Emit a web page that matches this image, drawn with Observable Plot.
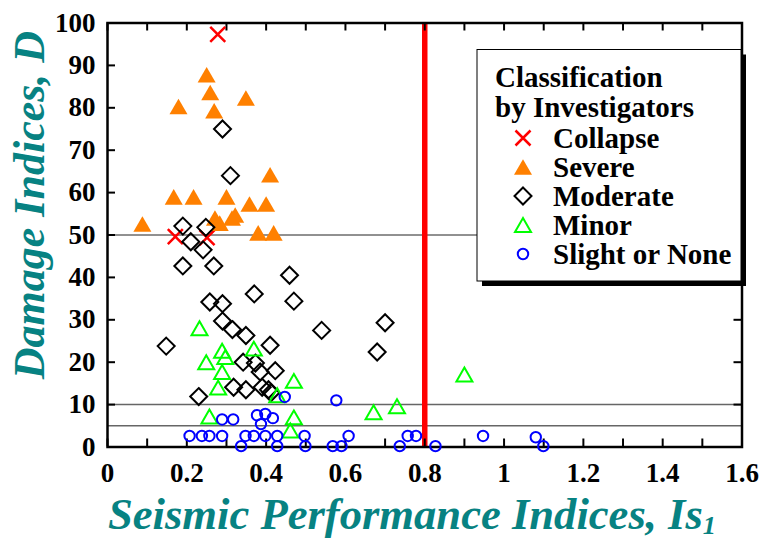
<!DOCTYPE html>
<html><head><meta charset="utf-8">
<script src="https://cdn.jsdelivr.net/npm/d3@7"></script>
<script src="https://cdn.jsdelivr.net/npm/@observablehq/plot@0.6"></script>
<style>body{margin:0;background:#fff;}</style>
</head><body><div id="chart"></div>
<script>
// ---- data ----
const collapseX = [0.278, 0.171, 0.251];
const collapseY = [97.3, 49.6, 49.4];

const severeX = [0.250, 0.259, 0.179, 0.349, 0.269, 0.410, 0.167, 0.217, 0.300, 0.358, 0.400, 0.088, 0.271, 0.283, 0.314, 0.322, 0.380, 0.419];
const severeY = [87.8, 83.6, 80.3, 82.3, 79.3, 64.2, 59.0, 59.0, 59.0, 57.3, 57.3, 52.6, 54.0, 52.8, 54.0, 54.7, 50.5, 50.5];

const moderateX = [0.290, 0.310, 0.190, 0.248, 0.210, 0.241, 0.190, 0.268, 0.459, 0.258, 0.290, 0.370, 0.470, 0.290, 0.315, 0.349, 0.410, 0.148, 0.540, 0.700, 0.680, 0.342, 0.373, 0.385, 0.423, 0.318, 0.349, 0.390, 0.406, 0.412, 0.230];
const moderateY = [75.0, 64.0, 52.1, 51.8, 48.4, 46.5, 42.7, 42.7, 40.5, 34.2, 33.8, 36.1, 34.4, 29.7, 27.7, 26.3, 24.0, 23.8, 27.5, 29.3, 22.4, 20.0, 19.8, 17.7, 18.0, 14.1, 13.5, 14.1, 13.5, 12.8, 11.9];

const minorX = [0.232, 0.289, 0.249, 0.297, 0.369, 0.289, 0.279, 0.470, 0.428, 0.257, 0.470, 0.461, 0.671, 0.730, 0.900];
const minorY = [28.0, 22.7, 20.0, 21.2, 23.2, 17.7, 14.0, 15.6, 12.2, 7.2, 7.0, 3.9, 8.2, 9.6, 17.1];

const slightX = [0.447, 0.577, 0.289, 0.317, 0.377, 0.398, 0.417, 0.387,
  0.207, 0.238, 0.257, 0.289, 0.348, 0.369, 0.398, 0.428, 0.497, 0.608, 0.757, 0.778, 0.947, 1.080,
  0.337, 0.428, 0.499, 0.568, 0.590, 0.737, 0.827, 1.099];
const slightY = [11.8, 11.0, 6.5, 6.5, 7.5, 7.8, 6.8, 5.4,
  2.6, 2.6, 2.6, 2.6, 2.6, 2.6, 2.6, 2.6, 2.6, 2.6, 2.6, 2.6, 2.6, 2.3,
  0.2, 0.2, 0.2, 0.2, 0.2, 0.2, 0.2, 0.2];

const xTickLabels = [0, 0.2, 0.4, 0.6, 0.8, 1, 1.2, 1.4, 1.6];
const xMinorTicks = [0, 0.1, 0.2, 0.3, 0.4, 0.5, 0.6, 0.7, 0.8, 0.9, 1, 1.1, 1.2, 1.3, 1.4, 1.5, 1.6];
const yTickLabels = [0, 10, 20, 30, 40, 50, 60, 70, 80, 90, 100];
const refLinesThin = [10, 5];
const refLineMain = [50];
const thresholdX = [0.8];

const categories = ["Collapse", "Severe", "Moderate", "Minor", "Slight or None"];
const xTitle = "Seismic Performance Indices, Is";
const xTitleSub = "1";
const yTitle = "Damage Indices, D";
const legendTitle = ["Classification", "by Investigators"];

// ---- helpers ----
const rows = (xs, ys) => xs.map((x, i) => ({x, y: ys[i]}));
const R = s => Math.sqrt(s / Math.PI);
const symTimes = {draw(c, s){ const r = R(s); c.moveTo(-r,-r); c.lineTo(r,r); c.moveTo(-r,r); c.lineTo(r,-r); }};
const symTri = {draw(c, s){ const r = R(s), h = r*Math.sqrt(3); c.moveTo(0,-h/2); c.lineTo(r,h/2); c.lineTo(-r,h/2); c.closePath(); }};
const symDiamond = {draw(c, s){ const r = R(s); c.moveTo(0,-r); c.lineTo(r,0); c.lineTo(0,r); c.lineTo(-r,0); c.closePath(); }};
const symCircle = {draw(c, s){ const r = R(s); c.moveTo(r,0); c.arc(0,0,r,0,2*Math.PI); }};

const styles = {
  "Collapse": {symbol: symTimes, r: 7.5, fill: "none", stroke: "#ff0000", strokeWidth: 2.5},
  "Severe": {symbol: symTri, r: 9, fill: "#ff8000", stroke: "none", strokeWidth: 0},
  "Moderate": {symbol: symDiamond, r: 8.5, fill: "none", stroke: "#000000", strokeWidth: 2},
  "Minor": {symbol: symTri, r: 8, fill: "none", stroke: "#00ff00", strokeWidth: 2},
  "Slight or None": {symbol: symCircle, r: 5.2, fill: "none", stroke: "#0000ff", strokeWidth: 2}
};
const series = {
  "Collapse": rows(collapseX, collapseY),
  "Severe": rows(severeX, severeY),
  "Moderate": rows(moderateX, moderateY),
  "Minor": rows(minorX, minorY),
  "Slight or None": rows(slightX, slightY)
};

const W = 764, H = 539, mL = 107, mR = 22.5, mT = 22.5, mB = 92.5;
const fw = W - mL - mR, fh = H - mT - mB;

const plot = Plot.plot({
  width: W, height: H,
  marginLeft: mL, marginRight: mR, marginTop: mT, marginBottom: mB,
  style: {fontFamily: "'Liberation Serif', 'Times New Roman', serif", fontSize: "27px", fontWeight: "bold", color: "black", background: "white"},
  x: {domain: [0, 1.6], ticks: xTickLabels, tickFormat: d => String(d), tickSize: 0, tickPadding: 16, label: null},
  y: {domain: [0, 100], ticks: yTickLabels, tickFormat: d => String(d), tickSize: 0, tickPadding: 12, label: null},
  marks: [
    Plot.ruleY(refLinesThin, {y: d => d, stroke: "#666", strokeWidth: 1.5}),
    Plot.ruleY(refLineMain, {y: d => d, stroke: "#222", strokeWidth: 1}),
    Plot.ruleX(thresholdX, {x: d => d, stroke: "#ff0000", strokeWidth: 5.5}),
    Plot.tickX(xMinorTicks, {x: d => d, insetTop: fh - 8, stroke: "black", strokeWidth: 2}),
    Plot.tickX(xMinorTicks, {x: d => d, insetBottom: fh - 8, stroke: "black", strokeWidth: 2}),
    Plot.tickY(yTickLabels, {y: d => d, insetRight: fw - 8, stroke: "black", strokeWidth: 2}),
    Plot.tickY(yTickLabels, {y: d => d, insetLeft: fw - 8, stroke: "black", strokeWidth: 2}),
    Plot.frame({stroke: "black", strokeWidth: 2.5}),
    ...categories.map(c => Plot.dot(series[c], {x: "x", y: "y", ...styles[c]}))
  ]
});
document.getElementById("chart").appendChild(plot);

// ---- titles and legend ----
const svg = d3.select(plot);
const teal = "#078282";
const xt = svg.append("text")
  .attr("x", 108).attr("y", 529)
  .attr("text-anchor", "start")
  .attr("fill", teal).attr("font-family", "'Liberation Serif', serif")
  .attr("font-size", 44).attr("font-weight", "bold").attr("font-style", "italic")
  .attr("textLength", 608).attr("lengthAdjust", "spacingAndGlyphs");
xt.append("tspan").text(xTitle);
xt.append("tspan").attr("font-size", 26).attr("dy", 5).text(xTitleSub);

svg.append("text")
  .attr("transform", "translate(44,205) rotate(-90)")
  .attr("text-anchor", "middle")
  .attr("fill", teal).attr("font-family", "'Liberation Serif', serif")
  .attr("font-size", 44).attr("font-weight", "bold").attr("font-style", "italic")
  .text(yTitle);

const lg = svg.append("g").attr("font-family", "'Liberation Serif', serif").attr("font-weight", "bold").attr("font-size", 29).attr("text-anchor", "start");
lg.append("rect").attr("x", 482).attr("y", 54.5).attr("width", 264).attr("height", 231.5).attr("fill", "black");
lg.append("rect").attr("x", 477).attr("y", 49.5).attr("width", 264).attr("height", 231.5).attr("fill", "white").attr("stroke", "black").attr("stroke-width", 1);
legendTitle.forEach((t, i) => lg.append("text").attr("x", 495).attr("y", 87 + i * 29.5).attr("fill", "black").text(t));
categories.forEach((c, i) => {
  const st = styles[c];
  const cy = 138 + i * 29;
  lg.append("path")
    .attr("transform", `translate(523,${cy})`)
    .attr("d", d3.symbol(st.symbol, st.r * st.r * Math.PI)())
    .attr("fill", st.fill).attr("stroke", st.stroke).attr("stroke-width", st.strokeWidth);
  lg.append("text").attr("x", 553).attr("y", cy + 9.5).attr("fill", "black").text(c);
});
</script>
</body></html>
